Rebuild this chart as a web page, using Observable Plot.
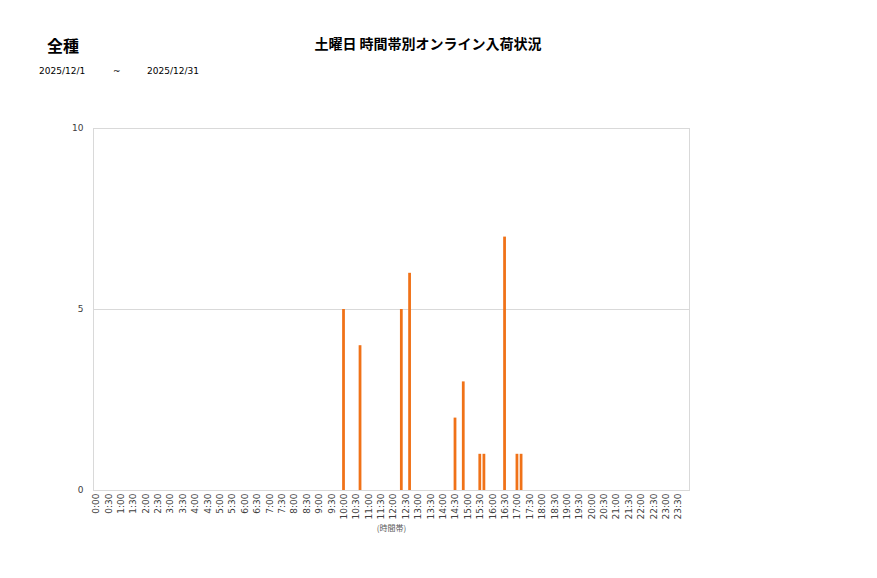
<!DOCTYPE html>
<html><head><meta charset="utf-8">
<script src="https://cdn.jsdelivr.net/npm/d3@7"></script>
<script src="https://cdn.jsdelivr.net/npm/@observablehq/plot@0.6"></script>
<style>
body{margin:0;background:#fff;}
#wrap{position:relative;width:877px;height:578px;font-family:"Noto Sans CJK JP","DejaVu Sans",sans-serif;}
.t{position:absolute;white-space:nowrap;color:#000;}
</style></head><body>
<div id="wrap">
<div class="t" style="left:47px;top:33px;font-size:16px;font-weight:bold;">全種</div>
<div class="t" style="left:428px;top:33px;font-size:14px;font-weight:bold;transform:translateX(-50%);">土曜日 時間帯別オンライン入荷状況</div>
<div class="t" style="left:39px;top:66px;font-size:9px;font-family:'DejaVu Sans';">2025/12/1</div>
<div class="t" style="left:113px;top:66px;font-size:9px;font-family:'DejaVu Sans';">~</div>
<div class="t" style="left:147px;top:66px;font-size:9px;font-family:'DejaVu Sans';">2025/12/31</div>
</div>
<script>
// 10-minute slots; tick labels shown every half hour
const hours = d3.range(0, 24);
const minutes = ["00", "10", "20", "30", "40", "50"];
const slots = hours.flatMap(h => minutes.map(m => `${h}:${m}`));
const tickLabels = hours.flatMap(h => [`${h}:00`, `${h}:30`]);

// non-zero slots and counts
const slotNames = ["10:00", "10:40", "12:20", "12:40", "14:30", "14:50", "15:30", "15:40", "16:30", "17:00", "17:10"];
const counts    = [5, 4, 5, 6, 2, 3, 1, 1, 7, 1, 1];
const yTicks = [0, 5, 10];

const data = slotNames.map((s, i) => ({slot: s, count: counts[i]}));

const chart = Plot.plot({
  width: 877,
  height: 578,
  marginLeft: 93,
  marginRight: 188,
  marginTop: 128,
  marginBottom: 88,
  style: {fontFamily: "DejaVu Sans", fontSize: "9px", color: "#404040", background: "transparent"},
  x: {type: "band", domain: slots, padding: 0.33, round: false, label: null},
  y: {domain: [0, 10], label: null},
  marks: [
    Plot.gridY([5], {stroke: "#d9d9d9", strokeOpacity: 1}),
    Plot.frame({stroke: "#d9d9d9"}),
    Plot.barY(data, {x: "slot", y: "count", fill: "#f07218"}),
    Plot.axisY({ticks: yTicks, tickSize: 0, tickPadding: 10, label: null, fontSize: 9}),
    Plot.axisX({ticks: tickLabels, tickSize: 0, tickPadding: 3, tickRotate: -90, label: null, fontSize: 9}),
    Plot.text(["(時間帯)"], {frameAnchor: "bottom", dy: 40, text: d => d, fontSize: 8, fill: "#595959", fontFamily: "Noto Sans CJK JP"})
  ]
});
chart.style.position = "absolute";
chart.style.left = "0px";
chart.style.top = "0px";
document.getElementById("wrap").appendChild(chart);
</script>
</body></html>
